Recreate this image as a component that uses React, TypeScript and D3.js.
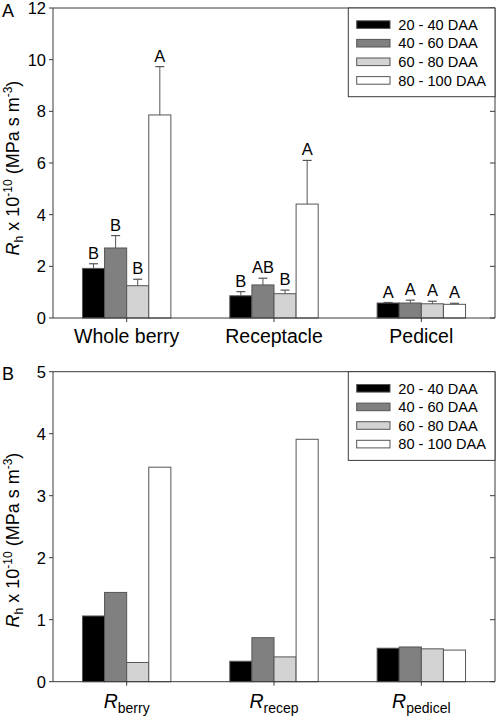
import React from "react";
import * as d3 from "d3";

const categoriesA = ["Whole berry", "Receptacle", "Pedicel"];
const categoriesB = ["berry", "recep", "pedicel"];
const seriesNames = ["20 - 40 DAA", "40 - 60 DAA", "60 - 80 DAA", "80 - 100 DAA"];
const seriesColors = ["#000000", "#808080", "#d3d3d3", "#ffffff"];

const valuesA = [
  [1.92, 2.71, 1.25, 7.86],
  [0.86, 1.28, 0.94, 4.41],
  [0.58, 0.58, 0.55, 0.53],
];
const errorsA = [
  [0.18, 0.48, 0.25, 1.87],
  [0.16, 0.26, 0.14, 1.69],
  [0.02, 0.11, 0.1, 0.04],
];
const lettersA = [
  ["B", "B", "B", "A"],
  ["B", "AB", "B", "A"],
  ["A", "A", "A", "A"],
];
const valuesB = [
  [1.06, 1.44, 0.31, 3.46],
  [0.33, 0.71, 0.4, 3.91],
  [0.54, 0.56, 0.53, 0.51],
];
const ticksA = [0, 2, 4, 6, 8, 10, 12];
const ticksB = [0, 1, 2, 3, 4, 5];

const FONT = "'Liberation Sans', Arial, sans-serif";
const LINE = "#3a3a3a";
const BAR_STROKE = "#555";

const left = 53;
const right = 495;

type PanelProps = {
  top: number;
  bottom: number;
  yMax: number;
  ticks: number[];
  values: number[][];
  errors?: number[][];
  letters?: string[][];
  panelLabel: string;
  titleCenter: number;
  italicLabels: boolean;
};

function YTitle({ cy }: { cy: number }) {
  return (
    <text
      transform={`translate(19,${cy}) rotate(-90)`}
      textAnchor="middle"
      fontFamily={FONT}
      fontSize={18}
      fill="#000"
    >
      <tspan fontStyle="italic">R</tspan>
      <tspan fontSize={12} dy={4}>h</tspan>
      <tspan dy={-4}> x 10</tspan>
      <tspan fontSize={12} dy={-7}>-10</tspan>
      <tspan dy={7}> (MPa s m</tspan>
      <tspan fontSize={12} dy={-7}>-3</tspan>
      <tspan dy={7}>)</tspan>
    </text>
  );
}

function Panel(p: PanelProps) {
  const x = d3
    .scaleBand<number>()
    .domain(d3.range(categoriesA.length))
    .range([left, right])
    .paddingInner(0.4)
    .paddingOuter(0.2);
  const xs = d3
    .scaleBand<number>()
    .domain(d3.range(seriesNames.length))
    .range([0, x.bandwidth()]);
  const y = d3.scaleLinear().domain([0, p.yMax]).range([p.bottom, p.top]);

  const legendX = 348.3;
  const legendTop = p.top;
  const rowH = 18.6;

  return (
    <g>
      {p.values.map((row, ci) =>
        row.map((v, si) => {
          const bx = (x(ci) as number) + (xs(si) as number);
          return (
            <rect
              key={`b${ci}-${si}`}
              x={bx}
              y={y(v)}
              width={xs.bandwidth()}
              height={p.bottom - y(v)}
              fill={seriesColors[si]}
              stroke={BAR_STROKE}
              strokeWidth={1}
            />
          );
        })
      )}
      {p.errors &&
        p.values.map((row, ci) =>
          row.map((v, si) => {
            const cx = (x(ci) as number) + (xs(si) as number) + xs.bandwidth() / 2;
            const et = y(v + p.errors![ci][si]);
            return (
              <g key={`e${ci}-${si}`}>
                <line x1={cx} x2={cx} y1={y(v)} y2={et} stroke={BAR_STROKE} strokeWidth={1} />
                <line x1={cx - 4.5} x2={cx + 4.5} y1={et} y2={et} stroke={BAR_STROKE} strokeWidth={1.2} />
                {p.letters && (
                  <text
                    x={cx}
                    y={et - 5}
                    textAnchor="middle"
                    fontFamily={FONT}
                    fontSize={16.5}
                    fill="#000"
                  >
                    {p.letters[ci][si]}
                  </text>
                )}
              </g>
            );
          })
        )}
      <line x1={left} x2={right} y1={p.top} y2={p.top} stroke={LINE} strokeWidth={1} />
      <line x1={right} x2={right} y1={p.top} y2={p.bottom} stroke={LINE} strokeWidth={1} />
      <line x1={left} x2={left} y1={p.top} y2={p.bottom} stroke={LINE} strokeWidth={1} />
      <line x1={left} x2={right} y1={p.bottom} y2={p.bottom} stroke={LINE} strokeWidth={1} />
      {p.ticks.map((t) => (
        <g key={`t${t}`}>
          <line x1={left - 4} x2={left} y1={y(t)} y2={y(t)} stroke={LINE} strokeWidth={1} />
          <line x1={right - 5} x2={right} y1={y(t)} y2={y(t)} stroke={LINE} strokeWidth={1} />
          <text
            x={46}
            y={y(t)}
            dy="0.36em"
            textAnchor="end"
            fontFamily={FONT}
            fontSize={16.5}
            fill="#000"
          >
            {t}
          </text>
        </g>
      ))}
      {categoriesA.map((c, ci) => {
        const cx = (x(ci) as number) + x.bandwidth() / 2;
        return (
          <g key={`x${ci}`}>
            <line x1={cx} x2={cx} y1={p.bottom} y2={p.bottom + 4} stroke={LINE} strokeWidth={1} />
            {p.italicLabels ? (
              <text x={cx} y={p.bottom + 26} textAnchor="middle" fontFamily={FONT} fontSize={19.5} fill="#000">
                <tspan fontStyle="italic">R</tspan>
                <tspan fontSize={14} dy={5}>{categoriesB[ci]}</tspan>
              </text>
            ) : (
              <text x={cx} y={p.bottom + 25} textAnchor="middle" fontFamily={FONT} fontSize={19.5} fill="#000">
                {c}
              </text>
            )}
          </g>
        );
      })}
      <rect
        x={legendX}
        y={legendTop}
        width={right - legendX}
        height={88.7}
        fill="#fff"
        stroke={LINE}
        strokeWidth={1}
      />
      {seriesNames.map((s, si) => {
        const cy = legendTop + 16.6 + si * rowH;
        return (
          <g key={`l${si}`}>
            <rect
              x={356.7}
              y={cy - 3.8}
              width={33.3}
              height={7.6}
              fill={seriesColors[si]}
              stroke={BAR_STROKE}
              strokeWidth={1}
            />
            <text x={398.3} y={cy} dy="0.36em" fontFamily={FONT} fontSize={14.6} fill="#000">
              {s}
            </text>
          </g>
        );
      })}
      <YTitle cy={p.titleCenter} />
      <text x={2} y={p.top + 8.5} fontFamily={FONT} fontSize={18} fill="#000">
        {p.panelLabel}
      </text>
    </g>
  );
}

export default function App() {
  return (
    <svg
      width={498}
      height={716}
      style={{ position: "absolute", left: 0, top: 0, background: "#fff" }}
    >
      <rect x={0} y={0} width={498} height={716} fill="#fff" />
      <Panel
        top={8}
        bottom={318}
        yMax={12}
        ticks={ticksA}
        values={valuesA}
        errors={errorsA}
        letters={lettersA}
        panelLabel="A"
        titleCenter={168}
        italicLabels={false}
      />
      <Panel
        top={371.7}
        bottom={681.7}
        yMax={5}
        ticks={ticksB}
        values={valuesB}
        panelLabel="B"
        titleCenter={540}
        italicLabels={true}
      />
    </svg>
  );
}
